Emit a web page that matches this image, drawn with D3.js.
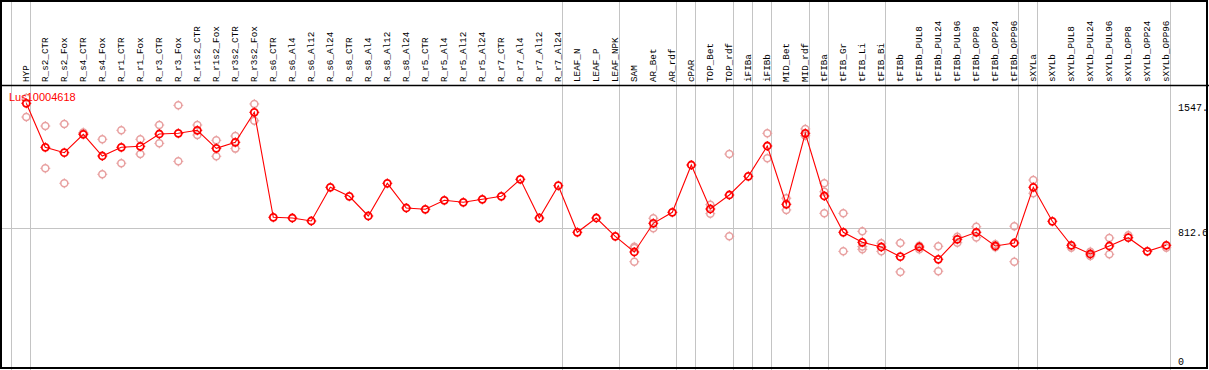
<!DOCTYPE html>
<html>
<head>
<meta charset="utf-8">
<script src="https://cdn.jsdelivr.net/npm/d3@7"></script>
<style>
  html, body { margin: 0; padding: 0; background: #fff; }
  svg { display: block; }
</style>
</head>
<body>
<div id="chart"></div>
<script>
  // --- Data ---
  const categories = [
    'HYP', 'R_s2_CTR', 'R_s2_Fox', 'R_s4_CTR', 'R_s4_Fox', 'R_r1_CTR', 'R_r1_Fox',
    'R_r3_CTR', 'R_r3_Fox', 'R_r1s2_CTR', 'R_r1s2_Fox', 'R_r3s2_CTR', 'R_r3s2_Fox',
    'R_s6_CTR', 'R_s6_Al4', 'R_s6_Al12', 'R_s6_Al24', 'R_s8_CTR', 'R_s8_Al4', 'R_s8_Al12',
    'R_s8_Al24', 'R_r5_CTR', 'R_r5_Al4', 'R_r5_Al12', 'R_r5_Al24', 'R_r7_CTR', 'R_r7_Al4',
    'R_r7_Al12', 'R_r7_Al24', 'LEAF_N', 'LEAF_P', 'LEAF_NPK', 'SAM', 'AR_Bet', 'AR_rdf',
    'cPAR', 'TOP_Bet', 'TOP_rdf', 'iFIBa', 'iFIBb', 'MID_Bet', 'MID_rdf', 'tFIBa',
    'tFIB_Gr', 'tFIB_Li', 'tFIB_Bi', 'tFIBb', 'tFIBb_PUL8', 'tFIBb_PUL24', 'tFIBb_PUL96',
    'tFIBb_OPP8', 'tFIBb_OPP24', 'tFIBb_OPP96', 'sXYLa', 'sXYLb', 'sXYLb_PUL8',
    'sXYLb_PUL24', 'sXYLb_PUL96', 'sXYLb_OPP8', 'sXYLb_OPP24', 'sXYLb_OPP96'
  ];

  const meanValues = [
    1547, 1287.8, 1256.0, 1364.3, 1236.6, 1287.8, 1293.7, 1366.1, 1370.2, 1387.9, 1281.9, 1317.2, 1493.9,
    875.6, 871.5, 853.8, 1052.3, 999.3, 883.3, 1075.8, 930.4, 922.7, 975.7, 963.9, 981.6, 999.3, 1099.4,
    871.5, 1061.7, 787.3, 871.5, 763.7, 671.3, 840.3, 905.0, 1183.6, 924.5, 1006.9, 1117.0, 1295.4,
    952.2, 1370.2, 1001.0, 787.3, 728.4, 700.7, 643.6, 700.7, 628.3, 746.1, 787.3, 706.6, 724.3,
    1052.3, 852.1, 710.7, 659.5, 706.6, 755.5, 675.4, 710.7
  ];

  // individual replicate values per category (same order as categories)
  const replicateValues = [
    [1578, 1466], [1413, 1164], [1425, 1076], [1375, 1368], [1335, 1129], [1388, 1194], [1335, 1248],
    [1419, 1311], [1535, 1205], [1419, 1360], [1329, 1235], [1354, 1280], [1543, 1444],
    [], [], [], [], [], [], [], [], [], [], [], [], [], [], [], [], [], [], [],
    [702, 614, 695], [870, 811], [], [], [950, 897], [1248, 764], [], [1370, 1223],
    [988, 919], [1396, 1356], [1076, 1026, 899], [899, 675], [793, 703, 687], [723, 675],
    [724, 554], [708, 687], [705, 558], [761, 726], [820, 756], [699, 717], [823, 614],
    [1095, 1017], [], [697], [673, 648], [754, 658], [770], [], [697]
  ];

  // index of first category of each group (vertical separators)
  const groupStarts = [0, 1, 29, 32, 35, 36, 38, 39, 40, 42, 43, 46, 53, 54, 61];

  const axisTicks = [1547, 812.6, 0];
  const axisTickLabels = ['1547.', '812.6', '0'];
  const gridValue = 812.6;
  const seriesName = 'Lus10004618';

  // --- Layout ---
  const W = 1209, H = 370;
  const plotLeft = 11, plotRight = 1170;
  const headerBottom = 85;
  const pointOffset = 15.3;

  const COLORS = {
    main: '#ff0000',
    rep: '#e8a0a0',
    grid: '#c4c4c4',
    frame: '#000000',
    text: '#000000'
  };

  const svg = d3.select('#chart').append('svg')
    .attr('width', W).attr('height', H);

  const x = d3.scaleBand()
    .domain(categories)
    .range([plotLeft, plotRight])
    .paddingInner(0).paddingOuter(0);

  const y = d3.scaleLinear()
    .domain([0, gridValue])
    .range([366, 228]);

  const px = c => x(c) + pointOffset;
  const bx = i => i < categories.length ? x(categories[i]) : x.range()[1];

  // Group separators
  svg.append('g').selectAll('line')
    .data(groupStarts)
    .join('line')
    .attr('x1', i => Math.round(bx(i)) + 0.5).attr('x2', i => Math.round(bx(i)) + 0.5)
    .attr('y1', 0).attr('y2', H)
    .attr('stroke', COLORS.grid).attr('stroke-width', 1);

  // Horizontal grid line
  svg.append('line')
    .attr('x1', 1).attr('x2', plotRight)
    .attr('y1', Math.round(y(gridValue)) + 0.5).attr('y2', Math.round(y(gridValue)) + 0.5)
    .attr('stroke', COLORS.grid).attr('stroke-width', 1);

  // Header labels
  svg.append('g').selectAll('text')
    .data(categories)
    .join('text')
    .attr('transform', c => `translate(${x(c) + 17.5},82) rotate(-90)`)
    .attr('text-anchor', 'start')
    .attr('font-family', '"Liberation Mono", "DejaVu Sans Mono", monospace')
    .attr('font-size', '9.3px')
    .attr('fill', COLORS.text)
    .text(c => c);

  // Marker: circle with four small ticks
  function marker(g, cx, cy, color, sw) {
    const r = 3.5;
    g.append('circle')
      .attr('cx', cx).attr('cy', cy).attr('r', r)
      .attr('fill', 'none').attr('stroke', color).attr('stroke-width', sw);
    g.append('path')
      .attr('d', `M${cx},${cy - r - 1.5}V${cy - r}M${cx},${cy + r}V${cy + r + 1.5}` +
                 `M${cx - r - 1.5},${cy}H${cx - r}M${cx + r},${cy}H${cx + r + 1.5}`)
      .attr('stroke', color).attr('stroke-width', 1);
  }

  // Replicates
  const repG = svg.append('g');
  categories.forEach((c, i) => {
    replicateValues[i].forEach(v => marker(repG, px(c), y(v), COLORS.rep, 1.5));
  });

  // Mean line
  const line = d3.line()
    .x((d, i) => px(categories[i]))
    .y(d => y(d));

  svg.append('path')
    .datum(meanValues)
    .attr('fill', 'none')
    .attr('stroke', COLORS.main)
    .attr('stroke-width', 1.1)
    .attr('d', line);

  // Mean markers
  const meanG = svg.append('g');
  categories.forEach((c, i) => marker(meanG, px(c), y(meanValues[i]), COLORS.main, 1.8));

  // Series name
  svg.append('text')
    .attr('x', 9).attr('y', 101)
    .attr('font-family', '"Liberation Sans", Arial, sans-serif')
    .attr('font-size', '11px')
    .attr('fill', COLORS.main)
    .text(seriesName);

  // Right axis labels (bottom one kept inside the frame)
  svg.append('g').selectAll('text')
    .data(axisTicks)
    .join('text')
    .attr('x', 1178)
    .attr('y', d => Math.min(y(d) + 8, 365))
    .attr('font-family', '"Liberation Mono", "DejaVu Sans Mono", monospace')
    .attr('font-size', '10px')
    .attr('fill', COLORS.text)
    .text((d, i) => axisTickLabels[i]);

  // Header divider and frame
  svg.append('line')
    .attr('x1', 0).attr('x2', W)
    .attr('y1', headerBottom + 0.5).attr('y2', headerBottom + 0.5)
    .attr('stroke', COLORS.frame).attr('stroke-width', 1.5);

  svg.append('rect')
    .attr('x', 1).attr('y', 1)
    .attr('width', 1206).attr('height', 367)
    .attr('fill', 'none')
    .attr('stroke', COLORS.frame)
    .attr('stroke-width', 2);
</script>
</body>
</html>
